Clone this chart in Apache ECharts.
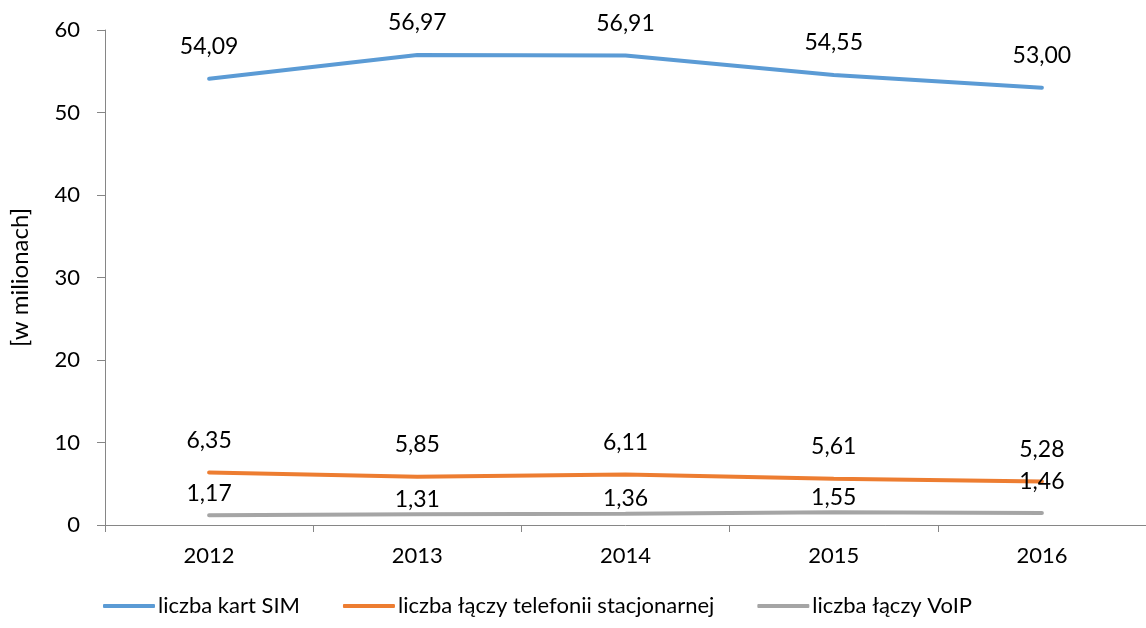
<!DOCTYPE html>
<html>
<head>
<meta charset="utf-8">
<script src="https://cdn.jsdelivr.net/npm/echarts@6/dist/echarts.min.js"></script>
<style>
  html, body { margin: 0; padding: 0; background: #ffffff; }
  #main { width: 1146px; height: 628px; }
</style>
</head>
<body>
<div id="main"></div>
<script>
var years = ['2012', '2013', '2014', '2015', '2016'];
var simCards = [54.09, 56.97, 56.91, 54.55, 53.00];
var fixedLines = [6.35, 5.85, 6.11, 5.61, 5.28];
var voipLines = [1.17, 1.31, 1.36, 1.55, 1.46];
var yTicks = [0, 10, 20, 30, 40, 50, 60];

// label gaps above the line, per point (VoIP labels sit closer in the original)
var voipLabelGap = [10, 3, 3, 3, 19];

var font = 'Lato, "Open Sans", sans-serif';

function fmt(p) {
    return p.value.toFixed(2).replace('.', ',');
}

function makeSeries(name, values, color, gaps) {
    return {
        name: name,
        type: 'line',
        data: values.map(function (v, i) {
            return { value: v, label: { distance: gaps ? gaps[i] : 20 } };
        }),
        symbol: 'circle',
        symbolSize: 1,
        itemStyle: { color: color },
        lineStyle: { color: color, width: 4, cap: 'round' },
        label: {
            show: true,
            position: 'top',
            formatter: fmt,
            color: '#000',
            fontFamily: font,
            fontSize: 23
        },
        emphasis: { disabled: true }
    };
}

var chart = echarts.init(document.getElementById('main'));
var option = {
    backgroundColor: '#ffffff',
    animation: false,
    grid: { left: 97, top: 30, width: 1053, height: 495 },
    legend: {
        left: 98,
        top: 590,
        icon: 'roundRect',
        itemWidth: 52,
        itemHeight: 4,
        itemGap: 43,
        textStyle: { fontFamily: font, fontSize: 22, color: '#000', padding: [0, 0, 0, -2] },
        data: ['liczba kart SIM', 'liczba łączy telefonii stacjonarnej', 'liczba łączy VoIP']
    },
    xAxis: {
        type: 'category',
        data: years,
        axisLine: { lineStyle: { color: '#868686', width: 1 } },
        axisTick: { show: true, length: 7, lineStyle: { color: '#868686' } },
        axisLabel: { color: '#000', fontFamily: font, fontSize: 22, margin: 20 }
    },
    yAxis: {
        type: 'value',
        min: yTicks[0],
        max: yTicks[yTicks.length - 1],
        interval: 10,
        name: '[w milionach]',
        nameLocation: 'middle',
        nameGap: 73,
        nameTextStyle: { color: '#000', fontFamily: font, fontSize: 24 },
        splitLine: { show: false },
        axisLine: { show: true, lineStyle: { color: '#868686', width: 1 } },
        axisTick: { show: true, length: 8, lineStyle: { color: '#868686' } },
        axisLabel: { color: '#000', fontFamily: font, fontSize: 22, margin: 25 }
    },
    series: [
        makeSeries('liczba kart SIM', simCards, '#5B9BD5'),
        makeSeries('liczba łączy telefonii stacjonarnej', fixedLines, '#ED7D31'),
        makeSeries('liczba łączy VoIP', voipLines, '#A5A5A5', voipLabelGap)
    ]
};
chart.setOption(option);
</script>
</body>
</html>
